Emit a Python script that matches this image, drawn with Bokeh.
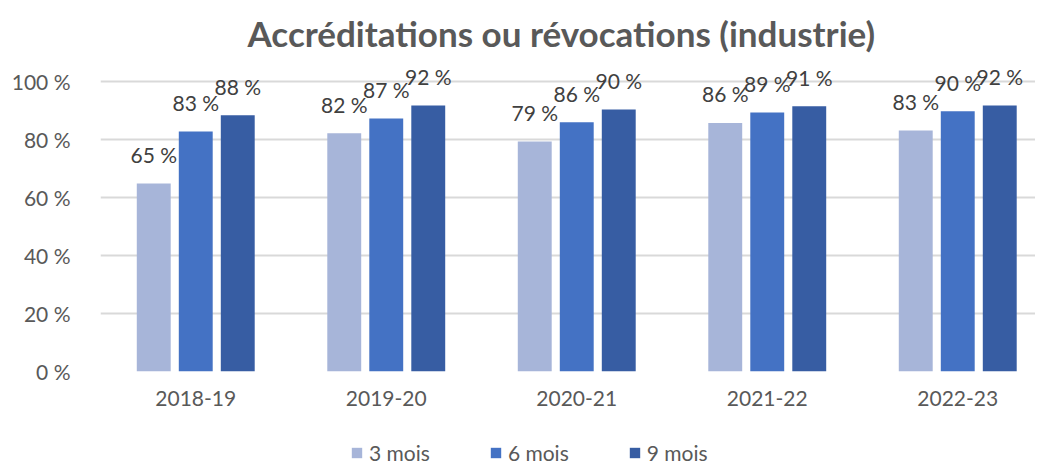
from bokeh.plotting import figure
from bokeh.layouts import column
from bokeh.models import ColumnDataSource, FixedTicker, Range1d, Legend, LegendItem
from bokeh.transform import dodge
from bokeh.core.properties import value
from bokeh.embed import file_html
from bokeh.resources import INLINE

categories = ["2018-19", "2019-20", "2020-21", "2021-22", "2022-23"]
series_names = ["3 mois", "6 mois", "9 mois"]
mois3 = [64.7, 82.0, 79.2, 85.6, 83.0]
mois6 = [82.6, 87.1, 85.8, 89.2, 89.6]
mois9 = [88.2, 91.6, 90.2, 91.3, 91.6]
y_ticks = [0, 20, 40, 60, 80, 100]

colors = ["#A7B5D9", "#4472C4", "#375DA3"]
FONT = "Lato"

xpos = [i + 0.5 for i in range(len(categories))]
src = ColumnDataSource(dict(
    x=xpos, cat=categories,
    m3=mois3, m6=mois6, m9=mois9,
    t3=[f"{v:.0f} %" for v in mois3],
    t6=[f"{v:.0f} %" for v in mois6],
    t9=[f"{v:.0f} %" for v in mois9],
))

p = figure(width=1035, height=430, output_backend="svg", toolbar_location=None,
           x_range=Range1d(0, 935 / 190.5), y_range=Range1d(0, 108.8),
           min_border_left=100, min_border_right=0, min_border_top=55, min_border_bottom=59,
           title="Accréditations ou révocations (industrie)")
p.outline_line_color = None
p.title.text_font = FONT
p.title.text_font_style = "bold"
p.title.text_font_size = "35px"
p.title.text_color = "#595959"
p.title.align = "left"
p.title.offset = 147
p.title.standoff = 4

offsets = [-0.2205, 0.0, 0.2205]
fields = ["m3", "m6", "m9"]
tfields = ["t3", "t6", "t9"]
for off, f, tf, c in zip(offsets, fields, tfields, colors):
    p.vbar(x=dodge("x", off), top=f, width=0.178, bottom=0, source=src,
           fill_color=c, line_color=None)
    p.text(x=dodge("x", off), y=f, text=tf, source=src, text_align="center",
           text_baseline="middle", y_offset=-29, text_font=value(FONT),
           text_font_size="21px", text_color="#404040")

p.xaxis.ticker = FixedTicker(ticks=xpos)
p.xaxis.major_label_overrides = {x: c for x, c in zip(xpos, categories)}
p.yaxis.ticker = FixedTicker(ticks=y_ticks)
p.yaxis.major_label_overrides = {t: f"{t} %" for t in y_ticks}
for ax in (p.xaxis, p.yaxis):
    ax.axis_line_color = None
    ax.major_tick_line_color = None
    ax.minor_tick_line_color = None
    ax.major_tick_in = 0
    ax.major_tick_out = 0
    ax.major_label_text_font = FONT
    ax.major_label_text_font_size = "21px"
    ax.major_label_text_color = "#595959"
p.xaxis.major_label_standoff = 19
p.yaxis.major_label_standoff = 30

p.xgrid.grid_line_color = None
p.ygrid.ticker = FixedTicker(ticks=y_ticks)
p.ygrid.grid_line_color = "#D9D9D9"
p.ygrid.grid_line_width = 2

# legend strip below the chart
pl = figure(width=1035, height=37, output_backend="svg", toolbar_location=None,
            x_range=Range1d(-20, -19), y_range=Range1d(0, 1),
            min_border=0, min_border_left=0, min_border_right=0,
            min_border_top=0, min_border_bottom=0)
pl.axis.visible = False
pl.grid.visible = False
pl.outline_line_color = None
leg_renderers = []
for f, c in zip(fields, colors):
    leg_renderers.append(pl.vbar(x=dodge("x", 0), top=f, width=0.178, bottom=0, source=src,
                                 fill_color=c, line_color=None))

legend = Legend(items=[LegendItem(label=n, renderers=[r]) for n, r in zip(series_names, leg_renderers)],
                orientation="horizontal", location=(250, 2))
legend.glyph_width = 13
legend.glyph_height = 13
legend.label_standoff = 6
legend.spacing = 59
legend.padding = 0
legend.margin = 0
legend.border_line_color = None
legend.background_fill_alpha = 0
legend.label_text_font = FONT
legend.label_text_font_size = "21px"
legend.label_text_color = "#595959"
legend.label_height = 20
pl.add_layout(legend, "center")

layout = column(p, pl, spacing=0)
open("out.html", "w").write(file_html(layout, INLINE))
